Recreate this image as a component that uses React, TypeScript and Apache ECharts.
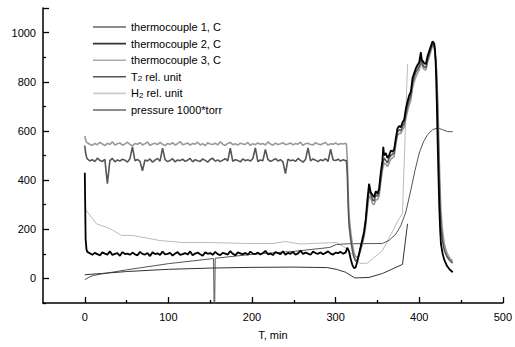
import React, { useEffect, useRef } from "react";
import * as echarts from "echarts";

const FONT = "'Liberation Sans', Arial, sans-serif";

// sampling of the flat (noisy) part: t = 3, 6, ..., 312 min
const FLAT_T0 = 3;
const FLAT_STEP = 3;

const xMajorTicks = [0, 100, 200, 300, 400, 500];
const xMinorTicks = [50, 150, 250, 350, 450];
const yMajorTicks = [0, 200, 400, 600, 800, 1000, 1100];
const yMinorTicks = [-100, 100, 300, 500, 700, 900];
const yLabels = [0, 200, 400, 600, 800, 1000];

const seriesNames = [
  "thermocouple 1, C",
  "thermocouple 2, C",
  "thermocouple 3, C",
  "T2 rel. unit",
  "H2 rel. unit",
  "pressure 1000*torr",
];

// thermocouple 1 (dark grey, ~480)
const tc1Start = [[0, 540], [1, 510], [2, 495]];
const tc1Flat = [
  486, 478, 483, 475, 489, 480, 476, 484, 385, 479, 488, 474, 482, 477, 485, 481, 473, 487, 535, 479,
  484, 476, 438, 482, 478, 486, 473, 481, 488, 477, 530, 483, 475, 480, 487, 474, 482, 479, 485, 476,
  481, 488, 474, 483, 479, 476, 486, 480, 473, 484, 489, 477, 482, 475, 481, 487, 478, 530, 476, 483,
  480, 474, 486, 479, 483, 477, 488, 531, 475, 482, 479, 525, 484, 476, 481, 487, 478, 483, 474, 426,
  485, 479, 482, 476, 488, 480, 473, 484, 531, 478, 486, 481, 475, 483, 479, 487, 476, 526, 482, 480,
  485, 477, 483, 479,
];
const tc1Heat = [
  [313, 480], [314, 420], [315, 300], [316, 220], [318, 160], [320, 115], [322, 85], [324, 70], [326, 75],
  [328, 95], [330, 125], [332, 150], [334, 180], [336, 230], [338, 300], [340, 360], [342, 345], [344, 320],
  [346, 315], [348, 340], [350, 335], [352, 350], [354, 410], [356, 460], [358, 490], [360, 480], [362, 470],
  [364, 490], [366, 500], [368, 505], [370, 510], [372, 560], [374, 595], [376, 605], [378, 600], [380, 620],
  [382, 630], [384, 670], [386, 700], [388, 725], [390, 745], [392, 795], [394, 820], [396, 840], [398, 850],
  [400, 862], [402, 895], [404, 870], [406, 860], [408, 858], [410, 890], [412, 912], [414, 935], [416, 955],
  [418, 945], [420, 880], [421, 800], [422, 680], [423, 540], [424, 400], [425, 290], [426, 210], [428, 150],
  [430, 115], [433, 90], [436, 75], [440, 62],
];

// thermocouple 2 (black, ~100)
const tc2Start = [[0, 430], [1, 160], [2, 118]];
const tc2Flat = [
  108, 102, 96, 104, 99, 93, 106, 101, 97, 110, 95, 100, 103, 92, 107, 99, 101, 96, 105, 98,
  94, 108, 100, 97, 103, 91, 106, 99, 102, 95, 109, 98, 100, 104, 93, 101, 107, 96, 99, 103,
  97, 110, 94, 101, 105, 98, 92, 106, 100, 103, 96, 108, 99, 95, 104, 101, 97, 111, 100, 94,
  106, 102, 98, 104, 96, 109, 101, 99, 105, 97, 103, 112, 98, 101, 95, 107, 103, 99, 110, 96,
  104, 100, 108, 97, 102, 113, 99, 105, 101, 96, 109, 103, 100, 106, 98, 104, 110, 101, 97, 105,
  103, 108, 100, 106,
];
const tc2Heat = [
  [314, 125], [316, 110], [318, 80], [320, 55], [322, 42], [324, 45], [326, 70], [328, 100], [330, 130],
  [332, 160], [334, 190], [336, 240], [338, 320], [340, 385], [342, 350], [344, 340], [346, 330], [348, 355],
  [350, 345], [352, 365], [354, 430], [356, 480], [357, 535], [358, 500], [360, 510], [362, 490], [364, 500],
  [366, 520], [368, 515], [370, 525], [372, 570], [374, 610], [376, 620], [378, 615], [380, 635], [382, 645],
  [384, 690], [386, 720], [388, 745], [390, 760], [392, 815], [394, 835], [396, 855], [398, 868], [400, 880],
  [402, 920], [403, 890], [404, 885], [406, 875], [408, 872], [410, 905], [412, 925], [414, 945], [416, 965],
  [418, 955], [419, 925], [420, 850], [421, 720], [422, 560], [423, 420], [424, 290], [425, 200], [426, 140],
  [428, 100], [430, 75], [433, 52], [436, 38], [440, 25],
];

// thermocouple 3 (light grey, ~545)
const tc3Start = [[0, 580], [1, 565], [2, 555]];
const tc3Flat = [
  552, 546, 541, 549, 544, 553, 547, 540, 550, 545, 556, 543, 548, 551, 542, 547, 554, 545, 539, 549,
  546, 552, 543, 548, 555, 541, 547, 550, 544, 553, 546, 540, 549, 545, 552, 543, 548, 557, 544, 547,
  551, 542, 549, 546, 554, 543, 548, 540, 552, 547, 545, 550, 543, 556, 546, 541, 549, 553, 544, 548,
  542, 550, 547, 545, 553, 541, 548, 544, 551, 546, 549, 543, 555, 547, 542, 550, 545, 548, 552, 544,
  547, 551, 543, 549, 546, 554, 541, 548, 550, 545, 543, 552, 547, 544, 549, 553, 542, 548, 546, 551,
  544, 549, 547, 550,
];
const tc3Heat = [
  [313, 545], [314, 480], [315, 350], [316, 260], [318, 190], [320, 140], [322, 105], [324, 88], [326, 85],
  [328, 95], [330, 115], [332, 140], [334, 170], [336, 215], [338, 280], [340, 335], [342, 330], [344, 305],
  [346, 300], [348, 320], [350, 320], [352, 335], [354, 390], [356, 440], [358, 470], [360, 465], [362, 455],
  [364, 470], [366, 485], [368, 490], [370, 495], [372, 545], [374, 580], [376, 590], [378, 590], [380, 605],
  [382, 615], [384, 650], [386, 680], [388, 705], [390, 725], [392, 775], [394, 800], [396, 820], [398, 835],
  [400, 848], [402, 880], [404, 860], [406, 850], [408, 848], [410, 880], [412, 900], [414, 925], [416, 948],
  [418, 942], [420, 890], [421, 830], [422, 740], [423, 620], [424, 480], [425, 360], [426, 270], [428, 190],
  [430, 140], [433, 105], [436, 85], [440, 70],
];

const t2Data = [
  [0, 15], [20, 20], [50, 28], [100, 37], [150, 42], [200, 45], [250, 46], [290, 44], [301, 37],
  [312, 25], [323, 2], [340, 4], [356, 20], [380, 57], [386, 222],
];

const h2Data = [
  [0, 284], [14, 222], [30, 203], [44, 175], [57, 175], [90, 154], [117, 146], [150, 146], [197, 142],
  [225, 142], [240, 150], [257, 140], [301, 146], [314, 120], [329, 61], [338, 62], [356, 113],
  [376, 243], [380, 265], [386, 872],
];

const pressureData = [
  [0, -5], [5, 5], [10, 12], [20, 18], [50, 35], [100, 60], [154, 81], [155, -200], [156, 82],
  [200, 98], [250, 110], [293, 126], [301, 138], [315, 141], [356, 142], [364, 155], [372, 180],
  [378, 215], [384, 270], [390, 360], [395, 440], [400, 510], [405, 555], [410, 585], [416, 605],
  [422, 612], [428, 605], [434, 597], [440, 597],
];

function buildTc(start: number[][], flat: number[], heat: number[][]) {
  const out: number[][] = start.map((p) => [p[0], p[1]]);
  flat.forEach((v, i) => out.push([FLAT_T0 + i * FLAT_STEP, v]));
  heat.forEach((p) => out.push([p[0], p[1]]));
  return out;
}

export default function App() {
  const ref = useRef<HTMLDivElement>(null);
  useEffect(() => {
    if (!ref.current) return;
    const chart = echarts.init(ref.current, undefined, { renderer: "svg" });
    const tickStyle = { color: "#000", width: 1.3 };
    const baseAxisLabel = {
      color: "#000",
      fontSize: 11,
      fontFamily: FONT,
      formatter: (v: number) => String(v),
    };
    const mk = (name: string, data: number[][], color: string, width: number) => ({
      name,
      type: "line",
      data,
      showSymbol: false,
      symbol: "none",
      clip: true,
      lineStyle: { color, width },
      itemStyle: { color },
      emphasis: { disabled: true },
    });
    chart.setOption({
      animation: false,
      backgroundColor: "#fff",
      grid: { left: 43, right: 12, top: 8, bottom: 44, containLabel: false },
      legend: {
        orient: "vertical",
        left: 88,
        top: 16,
        itemWidth: 33,
        itemHeight: 1.6,
        itemGap: 4.6,
        icon: "rect",
        data: [
          { name: seriesNames[0], itemStyle: { color: "#666" } },
          { name: seriesNames[1], itemStyle: { color: "#333" } },
          { name: seriesNames[2], itemStyle: { color: "#aaa" } },
          { name: seriesNames[3], itemStyle: { color: "#555" } },
          { name: seriesNames[4], itemStyle: { color: "#ccc" } },
          { name: seriesNames[5], itemStyle: { color: "#666" } },
        ],
        formatter: (n: string) => n.replace(/^([TH])2/, "$1{sub|2}"),
        textStyle: {
          color: "#000",
          fontSize: 11,
          fontFamily: FONT,
          lineHeight: 12,
          rich: {
            sub: { fontSize: 8, fontFamily: FONT, color: "#000", lineHeight: 1, verticalAlign: "bottom" },
          },
        },
      },
      xAxis: [
        {
          type: "value",
          min: -50,
          max: 500,
          interval: 50,
          position: "bottom",
          name: "T, min",
          nameLocation: "middle",
          nameGap: 26,
          nameTextStyle: { color: "#000", fontSize: 11, fontFamily: FONT },
          axisLine: { onZero: false, lineStyle: { color: "#000", width: 1.5 } },
          axisTick: { inside: true, length: 6, customValues: xMajorTicks, lineStyle: tickStyle },
          axisLabel: { ...baseAxisLabel, margin: 8, customValues: xMajorTicks },
          splitLine: { show: false },
        },
        {
          type: "value",
          min: -50,
          max: 500,
          interval: 50,
          position: "bottom",
          axisLine: { show: false, onZero: false },
          axisTick: { inside: true, length: 3, customValues: xMinorTicks, lineStyle: tickStyle },
          axisLabel: { show: false },
          splitLine: { show: false },
        },
      ],
      yAxis: [
        {
          type: "value",
          min: -100,
          max: 1100,
          interval: 100,
          position: "left",
          axisLine: { show: true, onZero: false, lineStyle: { color: "#000", width: 1.5 } },
          axisTick: { show: true, inside: true, length: 6, customValues: yMajorTicks, lineStyle: tickStyle },
          axisLabel: { ...baseAxisLabel, margin: 7, customValues: yLabels },
          splitLine: { show: false },
        },
        {
          type: "value",
          min: -100,
          max: 1100,
          interval: 100,
          position: "left",
          axisLine: { show: false, onZero: false },
          axisTick: { show: true, inside: true, length: 3, customValues: yMinorTicks, lineStyle: tickStyle },
          axisLabel: { show: false },
          splitLine: { show: false },
        },
      ],
      series: [
        mk(seriesNames[4], h2Data, "#bbb", 1),
        mk(seriesNames[5], pressureData, "#555", 1),
        mk(seriesNames[3], t2Data, "#333", 1),
        mk(seriesNames[2], buildTc(tc3Start, tc3Flat, tc3Heat), "#999", 1.6),
        mk(seriesNames[0], buildTc(tc1Start, tc1Flat, tc1Heat), "#555", 1.6),
        mk(seriesNames[1], buildTc(tc2Start, tc2Flat, tc2Heat), "#000", 1.8),
      ],
    });
    return () => chart.dispose();
  }, []);
  return (
    <div
      ref={ref}
      style={{ position: "fixed", left: 0, top: 0, width: 515, height: 347, background: "#fff" }}
    />
  );
}
